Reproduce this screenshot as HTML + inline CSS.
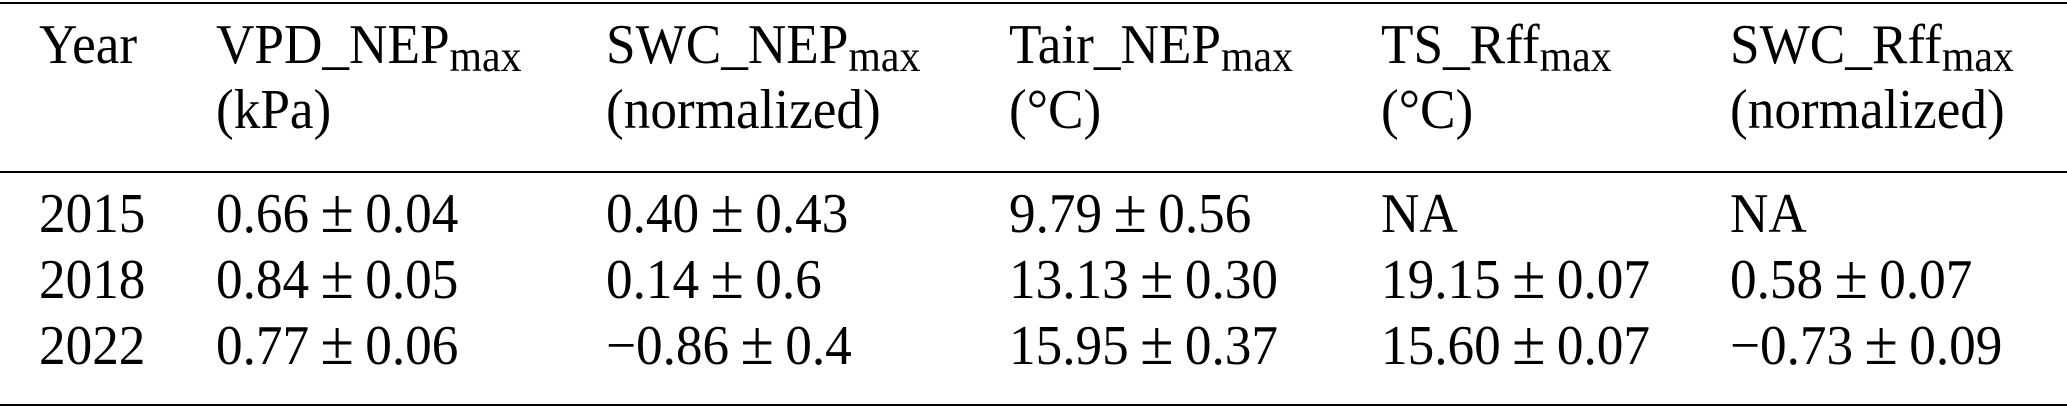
<!DOCTYPE html>
<html><head><meta charset="utf-8"><style>
html,body{margin:0;padding:0;background:#fff;}
body{width:2067px;height:409px;position:relative;overflow:hidden;font-family:"Liberation Serif","DejaVu Serif",serif;color:#000;}
.r{position:absolute;left:0;width:2067px;background:#000;}
.t{position:absolute;font-size:56px;line-height:1;white-space:nowrap;transform-origin:0 0;transform:scaleX(0.95);}
sub{font-size:44px;vertical-align:-8px;line-height:0;}
.pm{font-size:64px;margin:0 12px;line-height:0;}
</style></head><body>
<div class="r" style="top:2px;height:2px"></div>
<div class="r" style="top:171px;height:2px"></div>
<div class="r" style="top:404px;height:2px"></div>

<div class="t" style="left:39px;top:17px">Year</div>
<div class="t" style="left:216px;top:17px">VPD_NEP<sub>max</sub></div>
<div class="t" style="left:216px;top:82px">(kPa)</div>
<div class="t" style="left:606px;top:17px">SWC_NEP<sub>max</sub></div>
<div class="t" style="left:606px;top:82px">(normalized)</div>
<div class="t" style="left:1009px;top:17px">Tair_NEP<sub>max</sub></div>
<div class="t" style="left:1009px;top:82px">(°C)</div>
<div class="t" style="left:1381px;top:17px">TS_Rff<sub>max</sub></div>
<div class="t" style="left:1381px;top:82px">(°C)</div>
<div class="t" style="left:1730px;top:17px">SWC_Rff<sub>max</sub></div>
<div class="t" style="left:1730px;top:82px">(normalized)</div>

<div class="t" style="left:39px;top:186px">2015</div>
<div class="t" style="left:216px;top:186px">0.66<span class="pm">±</span>0.04</div>
<div class="t" style="left:606px;top:186px">0.40<span class="pm">±</span>0.43</div>
<div class="t" style="left:1009px;top:186px">9.79<span class="pm">±</span>0.56</div>
<div class="t" style="left:1381px;top:186px">NA</div>
<div class="t" style="left:1730px;top:186px">NA</div>

<div class="t" style="left:39px;top:252px">2018</div>
<div class="t" style="left:216px;top:252px">0.84<span class="pm">±</span>0.05</div>
<div class="t" style="left:606px;top:252px">0.14<span class="pm">±</span>0.6</div>
<div class="t" style="left:1009px;top:252px">13.13<span class="pm">±</span>0.30</div>
<div class="t" style="left:1381px;top:252px">19.15<span class="pm">±</span>0.07</div>
<div class="t" style="left:1730px;top:252px">0.58<span class="pm">±</span>0.07</div>

<div class="t" style="left:39px;top:318px">2022</div>
<div class="t" style="left:216px;top:318px">0.77<span class="pm">±</span>0.06</div>
<div class="t" style="left:606px;top:318px">−0.86<span class="pm">±</span>0.4</div>
<div class="t" style="left:1009px;top:318px">15.95<span class="pm">±</span>0.37</div>
<div class="t" style="left:1381px;top:318px">15.60<span class="pm">±</span>0.07</div>
<div class="t" style="left:1730px;top:318px">−0.73<span class="pm">±</span>0.09</div>
</body></html>
